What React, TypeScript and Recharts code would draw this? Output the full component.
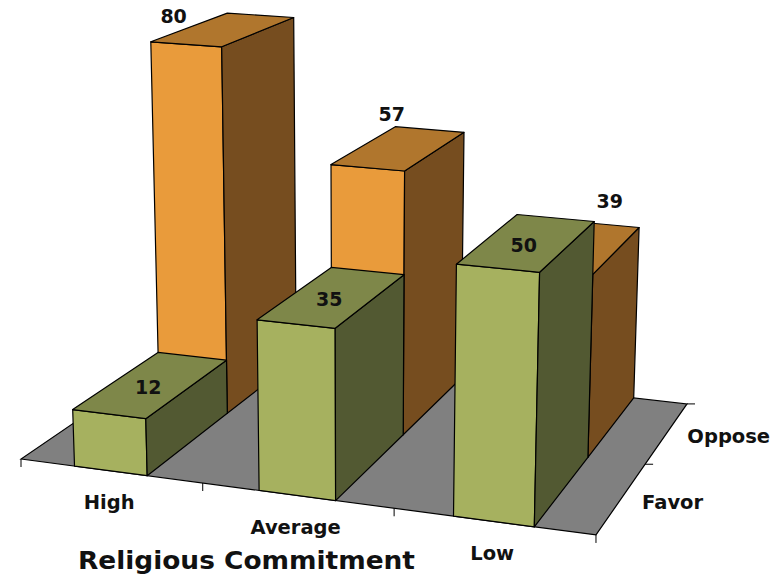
import { BarChart, Bar, XAxis, YAxis } from "recharts";

const categories = ["High", "Average", "Low"];
const favor = [12, 35, 50];
const oppose = [80, 57, 39];
const depthLabels = ["Favor", "Oppose"];
const maxValue = 80;

const W = 780;
const H = 575;
const AXIS_H = 1; // an x axis of height 0 draws no ticks
const PLOT_H = H - AXIS_H;
const FONT = "'DejaVu Sans', Verdana, sans-serif";

const data = categories.map((name, i) => ({ name, favor: favor[i], oppose: oppose[i] }));

// s = 0..1 along the categories, t = 0..1 going back, v = value
function project(s: number, t: number, v: number): [number, number] {
  const w = 1 - 0.0758 * s + 0.1592 * t - 0.000544 * v;
  const x = 529.8 * s + 193.5 * t + 21 - 0.195 * v;
  const y = 35.4 * s - 56.8 * t + 459 - 4.89 * v;
  return [x / w, y / w];
}

const pts = (list: [number, number][]) => list.map(p => p[0].toFixed(1) + "," + p[1].toFixed(1)).join(" ");

const faces = {
  favor: { front: "#A6B15F", top: "#7E8749", side: "#525932" },
  oppose: { front: "#E99B3B", top: "#B0762D", side: "#764D1F" },
};

// the oppose labels sit off the bar tops, each one by hand
const opposeNudge: [number, number][] = [[-51, -13], [-8, -34], [30, -46]];

function Box3D(props: any) {
  const { x, width, height, index, value, series } = props;
  const colors = faces[series as "favor" | "oppose"];
  const s0 = x / W;
  const s1 = (x + width) / W;
  const t0 = series === "favor" ? 0 : 0.5;
  const t1 = t0 + 0.5;
  const v = (height / PLOT_H) * maxValue;

  const front = [project(s0, t0, 0), project(s1, t0, 0), project(s1, t0, v), project(s0, t0, v)];
  const side = [project(s1, t0, 0), project(s1, t1, 0), project(s1, t1, v), project(s1, t0, v)];
  const top = [project(s0, t0, v), project(s1, t0, v), project(s1, t1, v), project(s0, t1, v)];

  const c = project((s0 + s1) / 2, (t0 + t1) / 2, v);
  const nudge = series === "oppose" ? opposeNudge[index] : [-4, 3];

  return (
    <g stroke="#000" strokeWidth={1.2} strokeLinejoin="round">
      <polygon points={pts(front)} fill={colors.front} />
      <polygon points={pts(side)} fill={colors.side} />
      <polygon points={pts(top)} fill={colors.top} />
      <text
        x={c[0] + nudge[0]}
        y={c[1] + nudge[1]}
        textAnchor="middle"
        dominantBaseline="central"
        stroke="none"
        fill="#111"
        fontFamily={FONT}
        fontWeight="bold"
        fontSize={19}
      >
        {value}
      </text>
    </g>
  );
}

function CategoryTick(props: any) {
  const { x, payload } = props;
  const p = project(x / W, 0, 0);
  return (
    <text
      x={p[0] - 1.5}
      y={p[1] + 32}
      textAnchor="middle"
      dominantBaseline="central"
      fill="#111"
      fontFamily={FONT}
      fontWeight="bold"
      fontSize={19.5}
    >
      {payload.value}
    </text>
  );
}

function Floor() {
  const frontTicks = categories.map((_, i) => i / categories.length).concat(1);
  return (
    <g>
      <polygon
        points={pts([project(0, 0, 0), project(1, 0, 0), project(1, 1, 0), project(0, 1, 0)])}
        fill="#808080"
        stroke="#000"
        strokeWidth={1.2}
      />
      {frontTicks.map(s => {
        const p = project(s, 0, 0);
        return <line key={s} x1={p[0]} y1={p[1]} x2={p[0]} y2={p[1] + 8} stroke="#000" strokeWidth={1} />;
      })}
      {depthLabels.map((name, i) => {
        const n = depthLabels.length;
        const tick = project(1, (i + 1) / n, 0);
        const mid = project(1, (i + 0.5) / n, 0);
        return (
          <g key={name}>
            <line x1={tick[0]} y1={tick[1]} x2={tick[0] + 8} y2={tick[1]} stroke="#000" strokeWidth={1} />
            <text
              x={mid[0] + 20.5}
              y={mid[1] + 4}
              dominantBaseline="central"
              fill="#111"
              fontFamily={FONT}
              fontWeight="bold"
              fontSize={19.5}
            >
              {name}
            </text>
          </g>
        );
      })}
    </g>
  );
}

export default function App() {
  return (
    <div style={{ position: "absolute", left: 0, top: 0 }}>
      <BarChart
        width={W}
        height={H}
        data={data}
        margin={{ top: 0, right: 0, bottom: 0, left: 0 }}
        barCategoryGap="30%"
      >
        <Floor />
        <XAxis
          xAxisId="favor"
          dataKey="name"
          height={AXIS_H}
          axisLine={false}
          tickLine={false}
          interval={0}
          tick={<CategoryTick />}
        />
        <XAxis xAxisId="oppose" dataKey="name" hide />
        <YAxis hide domain={[0, maxValue]} />
        <Bar
          xAxisId="oppose"
          dataKey="oppose"
          isAnimationActive={false}
          shape={(p: any) => <Box3D {...p} series="oppose" />}
        />
        <Bar
          xAxisId="favor"
          dataKey="favor"
          isAnimationActive={false}
          shape={(p: any) => <Box3D {...p} series="favor" />}
        />
        <text
          x={78}
          y={569}
          textLength={337}
          lengthAdjust="spacingAndGlyphs"
          fill="#111"
          fontFamily={FONT}
          fontWeight="bold"
          fontSize={24.5}
        >
          Religious Commitment
        </text>
      </BarChart>
    </div>
  );
}
